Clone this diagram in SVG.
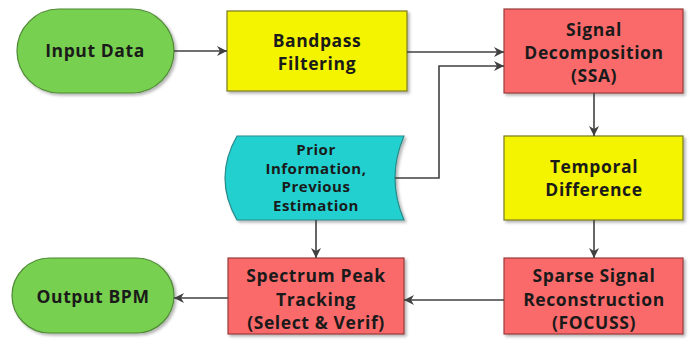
<svg xmlns="http://www.w3.org/2000/svg" width="690" height="343" viewBox="0 0 690 343">
<defs>
<marker id="ah" viewBox="0 0 10 10" refX="10" refY="5" markerWidth="10" markerHeight="10" markerUnits="userSpaceOnUse" orient="auto"><path d="M0,0 L10,5 L0,10 L3,5 z" fill="#404040"/></marker>
<filter id="sh" x="-10%" y="-10%" width="130%" height="130%"><feDropShadow dx="2" dy="2" stdDeviation="1.5" flood-color="#000" flood-opacity="0.3"/></filter>
</defs>
<style>
.t{font-family:"Open Sans","Liberation Sans",sans-serif;font-weight:bold;font-size:17.5px;letter-spacing:0.6px;fill:#1a1a1a;text-anchor:middle}
.p{font-size:15px;letter-spacing:0.5px}
.g{fill:#77d04f;stroke:#4f8a35;stroke-width:1.2;filter:url(#sh)}
.y{fill:#f4f400;stroke:#7a7a20;stroke-width:1.2;filter:url(#sh)}
.r{fill:#fb6b6b;stroke:#9a3a3a;stroke-width:1.2;filter:url(#sh)}
.c{fill:#22d0d0;stroke:#2a8a8a;stroke-width:1.2;filter:url(#sh)}
.e{fill:none;stroke:#404040;stroke-width:1.6;marker-end:url(#ah)}
</style>
<rect width="690" height="343" fill="#ffffff"/>
<g id="input"><rect class="g" x="17" y="9" width="157" height="84" rx="42"/><text class="t" x="95" y="57">Input Data</text></g>
<g id="bandpass"><rect class="y" x="227" y="11" width="180" height="80"/><text class="t" x="317" y="47">Bandpass</text><text class="t" x="317" y="70">Filtering</text></g>
<g id="ssa"><rect class="r" x="504" y="9" width="179" height="84"/><text class="t" x="594" y="36">Signal</text><text class="t" x="594" y="59">Decomposition</text><text class="t" x="594" y="82">(SSA)</text></g>
<g id="prior"><path class="c" d="M237,136 L404,136 Q386,178 404,220 L237,220 Q213,178 237,136 z"/><text class="t p" x="316" y="155">Prior</text><text class="t p" x="316" y="173.5">Information,</text><text class="t p" x="316" y="192">Previous</text><text class="t p" x="316" y="210.5">Estimation</text></g>
<g id="temporal"><rect class="y" x="504" y="136" width="179" height="84"/><text class="t" x="594" y="173">Temporal</text><text class="t" x="594" y="196">Difference</text></g>
<g id="sparse"><rect class="r" x="504" y="258" width="179" height="76"/><text class="t" x="594" y="282">Sparse Signal</text><text class="t" x="594" y="306">Reconstruction</text><text class="t" x="594" y="329">(FOCUSS)</text></g>
<g id="spectrum"><rect class="r" x="228" y="258" width="176" height="76"/><text class="t" x="316" y="282">Spectrum Peak</text><text class="t" x="316" y="306">Tracking</text><text class="t" x="316" y="329">(Select &amp; Verif)</text></g>
<g id="output"><rect class="g" x="12" y="258" width="162" height="75" rx="37.5"/><text class="t" x="93" y="303">Output BPM</text></g>
<g id="connectors">
<path class="e" d="M174,51 L227,51"/>
<path class="e" d="M407,52 L504,52"/>
<path class="e" d="M395,178 L439,178 L439,66 L504,66"/>
<path class="e" d="M594,93 L594,136"/>
<path class="e" d="M594,220 L594,258"/>
<path class="e" d="M316,220 L316,258"/>
<path class="e" d="M504,300 L404,300"/>
<path class="e" d="M228,298 L174,298"/>
</g>
</svg>
